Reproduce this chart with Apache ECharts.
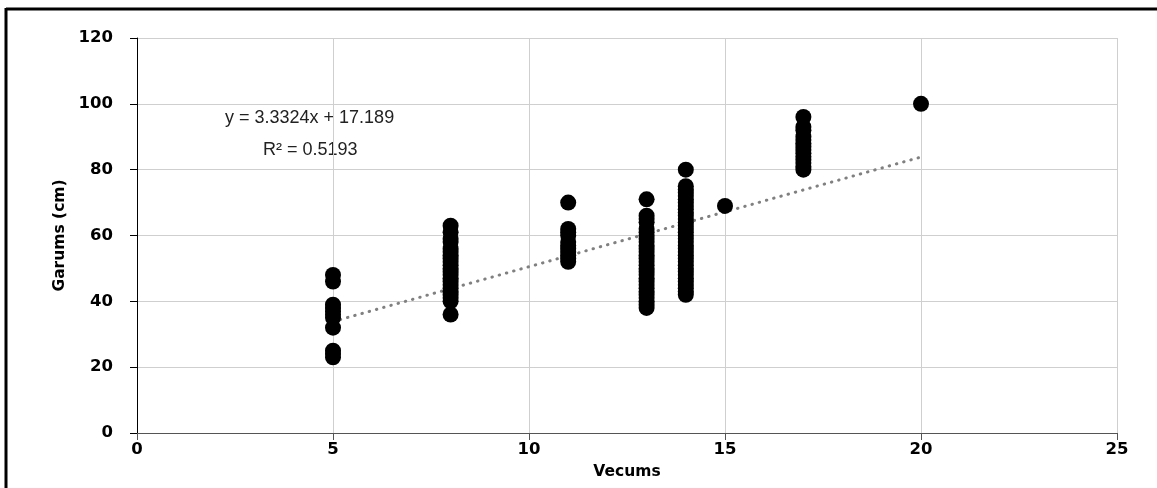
<!DOCTYPE html>
<html>
<head>
<meta charset="utf-8">
<script src="https://cdn.jsdelivr.net/npm/echarts@6/dist/echarts.min.js"></script>
<style>
    html, body { margin: 0; padding: 0; background: #fff; }
    #chartDiv { width: 1157px; height: 488px; }
</style>
</head>
<body>
<div id="chartDiv"></div>
<script>
// ages on x axis and the lengths measured at each age
var ages = [5, 8, 11, 13, 14, 15, 17, 20];
var lengths = [
    [48, 46, 39, 38, 37, 36, 35, 32, 25, 24, 23],
    [63, 61, 59, 58, 56, 55, 54, 53, 52, 51, 50, 49, 48, 47, 46, 45, 44, 43, 42, 41, 40, 36],
    [70, 62, 61, 60, 58, 57, 56, 55, 54, 53, 52],
    [71, 66, 65, 64, 62, 61, 60, 59, 58, 57, 56, 55, 54, 53, 52, 51, 50, 49, 48, 47, 46, 45, 44, 43, 42, 41, 40, 39, 38],
    [80, 75, 74, 73, 72, 71, 70, 69, 68, 67, 66, 65, 64, 63, 62, 61, 60, 59, 58, 57, 56, 55, 54, 53, 52, 51, 50, 49, 48, 47, 46, 45, 44, 43, 42],
    [69],
    [96, 93, 92, 90, 89, 88, 87, 86, 85, 84, 83, 82, 81, 80],
    [100]
];
// linear trendline end points (y = 3.3324x + 17.189)
var trendX = [5, 20];
var trendY = [33.85, 83.84];
var xTicks = [0, 5, 10, 15, 20, 25];
var yTicks = [0, 20, 40, 60, 80, 100, 120];

var points = [];
ages.forEach(function (a, i) {
    lengths[i].forEach(function (v) { points.push([a, v]); });
});
var trend = trendX.map(function (x, i) { return [x, trendY[i]]; });

var labelFont = { fontFamily: 'DejaVu Sans', fontSize: 16.5, fontWeight: 'bold', color: '#000' };
var nameFont = { fontFamily: 'DejaVu Sans', fontSize: 15.5, fontWeight: 'bold', color: '#000' };

var option = {
    animation: false,
    grid: { left: 137, right: 40, top: 38, bottom: 55 },
    graphic: [
        { type: 'line', shape: { x1: 6, y1: 9, x2: 1157, y2: 9 }, style: { stroke: '#000', lineWidth: 3 } },
        { type: 'line', shape: { x1: 6, y1: 8, x2: 6, y2: 488 }, style: { stroke: '#000', lineWidth: 3 } },
        {
            type: 'text', left: 225, top: 109,
            style: { text: 'y = 3.3324x + 17.189', font: '18px "Liberation Sans"', fill: '#222' }
        },
        {
            type: 'text', left: 263, top: 141,
            style: { text: 'R² = 0.5193', font: '18px "Liberation Sans"', fill: '#222' }
        }
    ],
    xAxis: {
        type: 'value',
        min: xTicks[0], max: xTicks[xTicks.length - 1], interval: 5,
        name: 'Vecums', nameLocation: 'middle', nameGap: 31,
        nameTextStyle: nameFont,
        axisLine: { show: true, onZero: false, lineStyle: { color: '#555', width: 1 } },
        axisTick: { show: true, length: 7, lineStyle: { color: '#555' } },
        axisLabel: Object.assign({ margin: 8 }, labelFont),
        splitLine: { show: true, lineStyle: { color: '#cfcfcf', width: 1 } }
    },
    yAxis: {
        type: 'value',
        min: yTicks[0], max: yTicks[yTicks.length - 1], interval: 20,
        name: 'Garums (cm)', nameLocation: 'middle', nameGap: 68,
        nameTextStyle: nameFont,
        axisLine: { show: true, lineStyle: { color: '#000', width: 1 } },
        axisTick: { show: true, length: 7, lineStyle: { color: '#000' } },
        axisLabel: Object.assign({ margin: 24 }, labelFont),
        splitLine: { show: true, lineStyle: { color: '#cfcfcf', width: 1 } }
    },
    series: [
        {
            type: 'line',
            data: trend,
            symbol: 'none',
            z: 1,
            lineStyle: { color: '#808080', width: 3, type: [0.5, 7], cap: 'round' }
        },
        {
            type: 'scatter',
            data: points,
            symbol: 'circle',
            symbolSize: 16,
            z: 2,
            itemStyle: { color: '#000', opacity: 1 }
        }
    ]
};

var myChart = echarts.init(document.getElementById('chartDiv'));
myChart.setOption(option);
</script>
</body>
</html>
